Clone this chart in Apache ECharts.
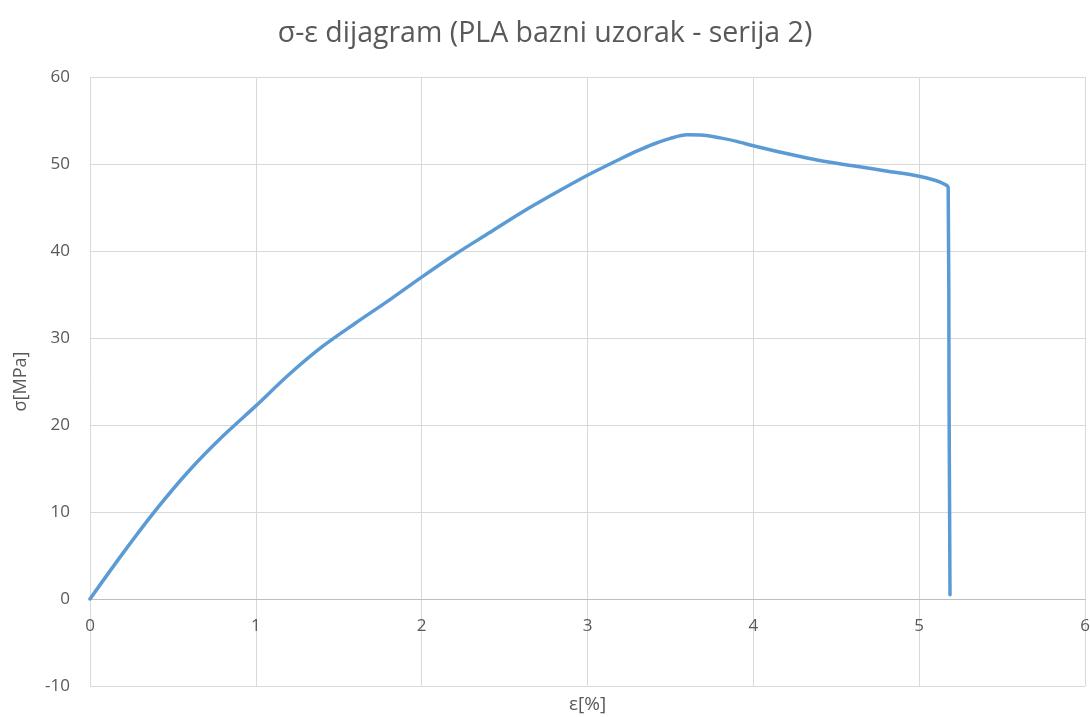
<!DOCTYPE html>
<html>
<head>
<meta charset="utf-8">
<script src="https://cdn.jsdelivr.net/npm/echarts@6/dist/echarts.min.js"></script>
<style>
html,body{margin:0;padding:0;background:#fff;}
#chart{width:1090px;height:717px;}
</style>
</head>
<body>
<div id="chart"></div>
<script>
const titleText = 'σ-ε dijagram (PLA bazni uzorak - serija 2)';
const xName = 'ε[%]';
const yName = 'σ[MPa]';
const strain = [0, 0.2, 0.4, 0.6, 0.8, 1.0, 1.2, 1.4, 1.6, 1.8, 2.0, 2.2, 2.4, 2.6, 2.8, 3.0, 3.2, 3.3, 3.4, 3.5, 3.6, 3.7, 3.8, 3.9, 4.0, 4.2, 4.4, 4.6, 4.8, 5.0, 5.1, 5.15, 5.175, 5.18, 5.186];
const stress = [0, 5.3, 10.3, 14.8, 18.7, 22.2, 25.8, 29.0, 31.7, 34.3, 37.0, 39.6, 42.0, 44.4, 46.6, 48.7, 50.6, 51.5, 52.3, 52.95, 53.35, 53.3, 53.0, 52.6, 52.1, 51.2, 50.4, 49.8, 49.2, 48.6, 48.1, 47.7, 47.3, 24.0, 0.5];

const chart = echarts.init(document.getElementById('chart'));
const font = "'Open Sans', 'Noto Sans', sans-serif";
chart.setOption({
  animation: false,
  title: {
    text: titleText, left: 'center', top: 14,
    textStyle: { fontFamily: font, fontSize: 28.5, fontWeight: 'normal', color: '#595959' }
  },
  grid: { left: 90, right: 5, top: 77, bottom: 31, outerBoundsMode: 'none', containLabel: false },
  xAxis: {
    type: 'value', min: 0, max: 6, interval: 1,
    offset: -87,
    name: xName, nameLocation: 'middle', nameGap: 96,
    nameTextStyle: { fontFamily: font, fontSize: 19, color: '#595959' },
    axisLine: { onZero: false, lineStyle: { color: '#bfbfbf', width: 1 } },
    axisTick: { show: false },
    axisLabel: { fontFamily: font, fontSize: 17, color: '#595959', margin: 19 },
    splitLine: { show: true, lineStyle: { color: '#d9d9d9', width: 1 } }
  },
  yAxis: {
    type: 'value', min: -10, max: 60, interval: 10,
    name: yName, nameLocation: 'middle', nameGap: 60, nameRotate: 90,
    nameTextStyle: { fontFamily: font, fontSize: 18, color: '#595959' },
    axisLine: { show: false },
    axisTick: { show: false },
    axisLabel: { fontFamily: font, fontSize: 17, color: '#595959', margin: 20 },
    splitLine: { show: true, lineStyle: { color: '#d9d9d9', width: 1 } }
  },
  series: [{
    type: 'line',
    data: strain.map((e, i) => [e, stress[i]]),
    showSymbol: false,
    smooth: 0.3,
    lineStyle: { color: '#5b9bd5', width: 3.5, cap: 'round', join: 'round' }
  }]
});
</script>
</body>
</html>
